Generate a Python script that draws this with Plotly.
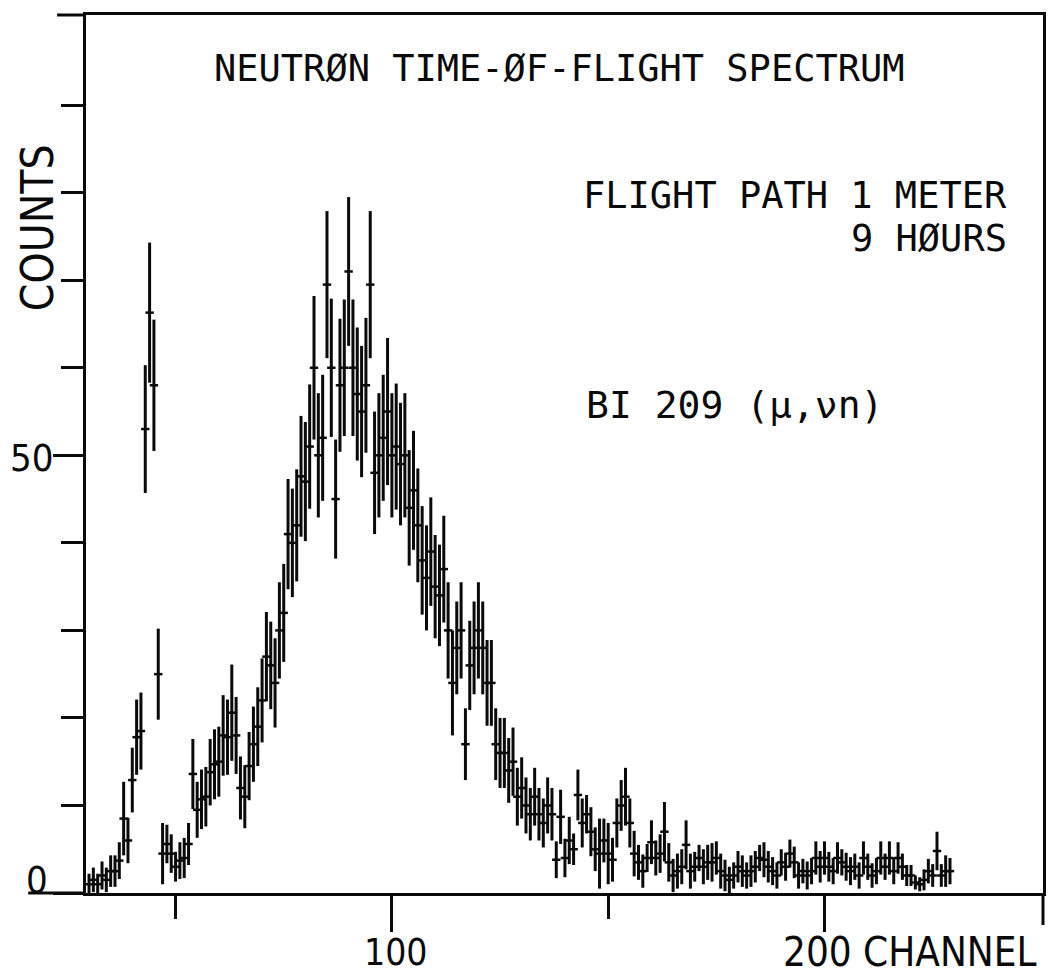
import plotly.graph_objects as go

# ---------------- data ----------------
channels = list(range(30, 230))

counts = [
    1.0, 1.5, 1.0, 2.0, 1.5, 2.5, 2.5, 3.7, 8.5, 6.0,          # 30-39
    12.9, 17.8, 18.5, 53.0, 66.3, 58.0, 25.0, 4.5, 5.6, 4.5,   # 40-49
    3.0, 3.7, 4.0, 5.6, 13.6, 9.5, 10.7, 11.0, 13.8, 14.7,     # 50-59
    15.0, 18.0, 17.8, 20.6, 18.0, 12.0, 11.0, 14.5, 17.0, 19.0,  # 60-69
    22.0, 27.0, 26.0, 24.0, 30.0, 32.0, 41.0, 40.0, 42.0, 47.6,  # 70-79
    47.0, 51.0, 60.0, 50.0, 52.0, 69.5, 60.0, 45.0, 58.0, 60.0,  # 80-89
    71.0, 60.0, 57.0, 55.0, 58.0, 69.5, 48.0, 50.0, 52.0, 55.0,  # 90-99
    50.0, 51.0, 49.0, 50.0, 44.0, 46.0, 42.0, 38.0, 36.0, 39.0,  # 100-109
    35.0, 34.0, 37.0, 30.0, 24.0, 28.0, 30.0, 17.0, 26.0, 28.0,  # 110-119
    30.0, 28.0, 24.0, 24.0, 17.0, 16.0, 16.0, 14.0, 15.0, 11.0,  # 120-129
    12.0, 10.0, 9.0, 11.0, 9.0, 8.0, 10.0, 9.0, 3.8, 8.7,        # 130-139
    4.0, 6.0, 5.0, 11.2, 8.0, 9.0, 7.0, 5.0, 4.5, 6.0,           # 140-149
    4.5, 3.8, 8.0, 10.0, 11.0, 8.0, 4.5, 3.5, 2.5, 4.0,          # 150-159
    5.8, 4.0, 4.5, 7.0, 3.5, 2.0, 2.5, 3.0, 5.5, 2.5,            # 160-169
    3.0, 4.0, 3.0, 3.5, 3.5, 4.0, 2.5, 2.0, 1.5, 2.0,            # 170-179
    3.0, 2.5, 2.0, 2.5, 3.0, 4.0, 3.8, 3.0, 2.5, 2.0,            # 180-189
    3.5, 3.0, 4.5, 3.5, 2.0, 2.5, 2.0, 2.5, 4.0, 3.0,            # 190-199
    4.0, 3.0, 2.5, 4.0, 3.5, 3.0, 2.5, 3.0, 2.0, 4.0,            # 200-209
    3.0, 2.0, 2.5, 4.0, 3.0, 4.0, 2.5, 4.0, 3.0, 2.0,            # 210-219
    2.0, 1.2, 1.0, 1.5, 2.5, 2.0, 4.8, 2.0, 2.5, 2.5,            # 220-229
]

errors = [
    1.2, 1.4, 1.2, 1.6, 1.4, 1.8, 1.8, 2.1, 4.2, 2.6,
    3.7, 4.3, 4.4, 7.3, 8.0, 7.5, 5.2, 3.5, 2.2, 2.2,
    1.7, 2.1, 2.3, 2.4, 4.0, 3.2, 3.4, 3.4, 3.8, 4.0,
    4.0, 4.6, 4.3, 5.5, 4.4, 3.6, 3.6, 3.9, 4.3, 4.5,
    4.8, 5.1, 5.0, 5.1, 5.5, 5.6, 6.3, 6.2, 6.4, 6.9,
    6.8, 7.1, 8.2, 7.1, 7.2, 8.4, 7.9, 6.8, 7.6, 7.8,
    8.5, 7.8, 7.6, 7.5, 7.7, 8.4, 7.0, 7.1, 7.2, 8.4,
    7.1, 7.2, 7.0, 7.1, 6.6, 6.8, 6.5, 6.2, 6.0, 6.2,
    5.9, 5.8, 6.1, 5.5, 6.0, 5.3, 5.5, 4.1, 5.1, 5.3,
    5.5, 5.3, 4.9, 4.9, 4.1, 4.0, 4.0, 3.7, 3.9, 3.3,
    3.5, 3.2, 3.0, 3.3, 3.0, 2.8, 3.2, 3.0, 2.1, 3.1,
    2.2, 2.7, 1.8, 2.9, 2.8, 2.2, 2.8, 2.5, 4.0, 2.5,
    3.5, 2.5, 2.8, 2.9, 3.3, 2.8, 2.6, 2.0, 1.9, 1.6,
    2.5, 2.0, 2.2, 3.4, 2.2, 1.9, 2.0, 2.0, 2.8, 2.0,
    1.7, 1.5, 2.0, 2.0, 2.2, 1.9, 2.0, 1.8, 1.5, 1.5,
    1.8, 1.8, 1.5, 1.8, 1.8, 1.5, 2.0, 1.8, 1.6, 1.5,
    1.5, 1.6, 1.6, 1.8, 1.5, 1.4, 1.6, 1.5, 1.9, 1.8,
    1.9, 1.7, 1.5, 1.8, 1.5, 1.6, 1.6, 1.5, 1.5, 1.9,
    1.5, 1.4, 1.5, 1.9, 1.5, 1.9, 1.5, 1.8, 1.5, 1.2,
    1.2, 0.8, 0.8, 1.2, 1.4, 1.3, 2.2, 1.3, 1.8, 1.5,
]

x_major_ticks = [100, 200]
x_minor_ticks = [50, 150]
y_major_ticks = [0, 50]
y_minor_ticks = [10, 20, 30, 40, 60, 70, 80, 90]

title_text = "NEUTRØN TIME-ØF-FLIGHT SPECTRUM"
info_line1 = "FLIGHT PATH 1 METER"
info_line2 = "9 HØURS"
reaction_text = "BI 209 (μ,νn)"
y_title = "COUNTS"
x_title = "CHANNEL"

# ---------------- layout geometry ----------------
W, H = 1052, 977
ML, MR, MT, MB = 86, 6, 15, 84
PW, PH = W - ML - MR, H - MT - MB


def px(x):
    return (x - ML) / PW


def py(y):
    return (H - MB - y) / PH


INK = "#0a0a0a"
MONO = "DejaVu Sans Mono"
NARROW = "Liberation Sans Narrow, DejaVu Sans Condensed, Liberation Sans, Arial"

fig = go.Figure()
fig.add_trace(go.Scatter(
    x=channels, y=counts, mode="markers",
    marker=dict(symbol="line-ew", size=6, color=INK, line=dict(width=2.5, color=INK)),
    error_y=dict(type="data", array=errors, visible=True, thickness=3, width=0, color=INK),
    showlegend=False,
))

fig.update_layout(
    width=W, height=H,
    margin=dict(l=ML, r=MR, t=MT, b=MB, pad=0),
    paper_bgcolor="white", plot_bgcolor="white",
    xaxis=dict(
        range=[29.3, 250.5], showgrid=False, zeroline=False,
        showline=True, linewidth=3, linecolor=INK, mirror=True,
        tickmode="array", tickvals=x_major_ticks, ticks="outside",
        ticklen=36, tickwidth=2.5, tickcolor=INK, showticklabels=False,
        minor=dict(tickmode="array", tickvals=x_minor_ticks, ticks="outside",
                   ticklen=23, tickwidth=2.5, tickcolor=INK, showgrid=False),
    ),
    yaxis=dict(
        range=[0, 100.3], showgrid=False, zeroline=False,
        showline=True, linewidth=3, linecolor=INK, mirror=True,
        tickmode="array", tickvals=y_major_ticks, ticks="outside",
        ticklen=30, tickwidth=2.5, tickcolor=INK, showticklabels=False,
        minor=dict(tickmode="array", tickvals=y_minor_ticks, ticks="outside",
                   ticklen=22, tickwidth=2.5, tickcolor=INK, showgrid=False),
    ),
)

# frame extensions, as on the plotter drawing
fig.add_shape(type="line", xref="paper", yref="paper",
              x0=px(57), x1=0, y0=1, y1=1, line=dict(color=INK, width=3))
fig.add_shape(type="line", xref="paper", yref="paper",
              x0=px(28), x1=0, y0=0, y1=0, line=dict(color=INK, width=3))
fig.add_shape(type="line", xref="paper", yref="paper",
              x0=1, x1=1, y0=0, y1=py(925), line=dict(color=INK, width=3))


def label(text, x, y, size, family, xanchor="center", angle=0):
    fig.add_annotation(text=text, xref="paper", yref="paper", x=px(x), y=py(y),
                       xanchor=xanchor, yanchor="middle", showarrow=False,
                       textangle=angle, font=dict(family=family, size=size, color=INK))


label(title_text, 561, 68, 37, MONO)
label(info_line1, 1012, 195, 37, MONO, xanchor="right")
label(info_line2, 1012, 238, 37, MONO, xanchor="right")
label(reaction_text, 586, 405, 38, MONO, xanchor="left")
label(y_title, 37, 228, 44, NARROW, angle=-90)
label(str(y_major_ticks[0]), 37, 880, 38, NARROW)
label(str(y_major_ticks[1]), 32, 458, 38, NARROW)
label(str(x_major_ticks[0]), 397, 952, 37, NARROW)
label(str(x_major_ticks[1]) + " " + x_title, 783, 952, 40, NARROW, xanchor="left")

fig.write_html(
    "out.html",
    config={"displayModeBar": False},
    post_script="document.body.style.margin='0';document.body.style.overflow='hidden';",
)
